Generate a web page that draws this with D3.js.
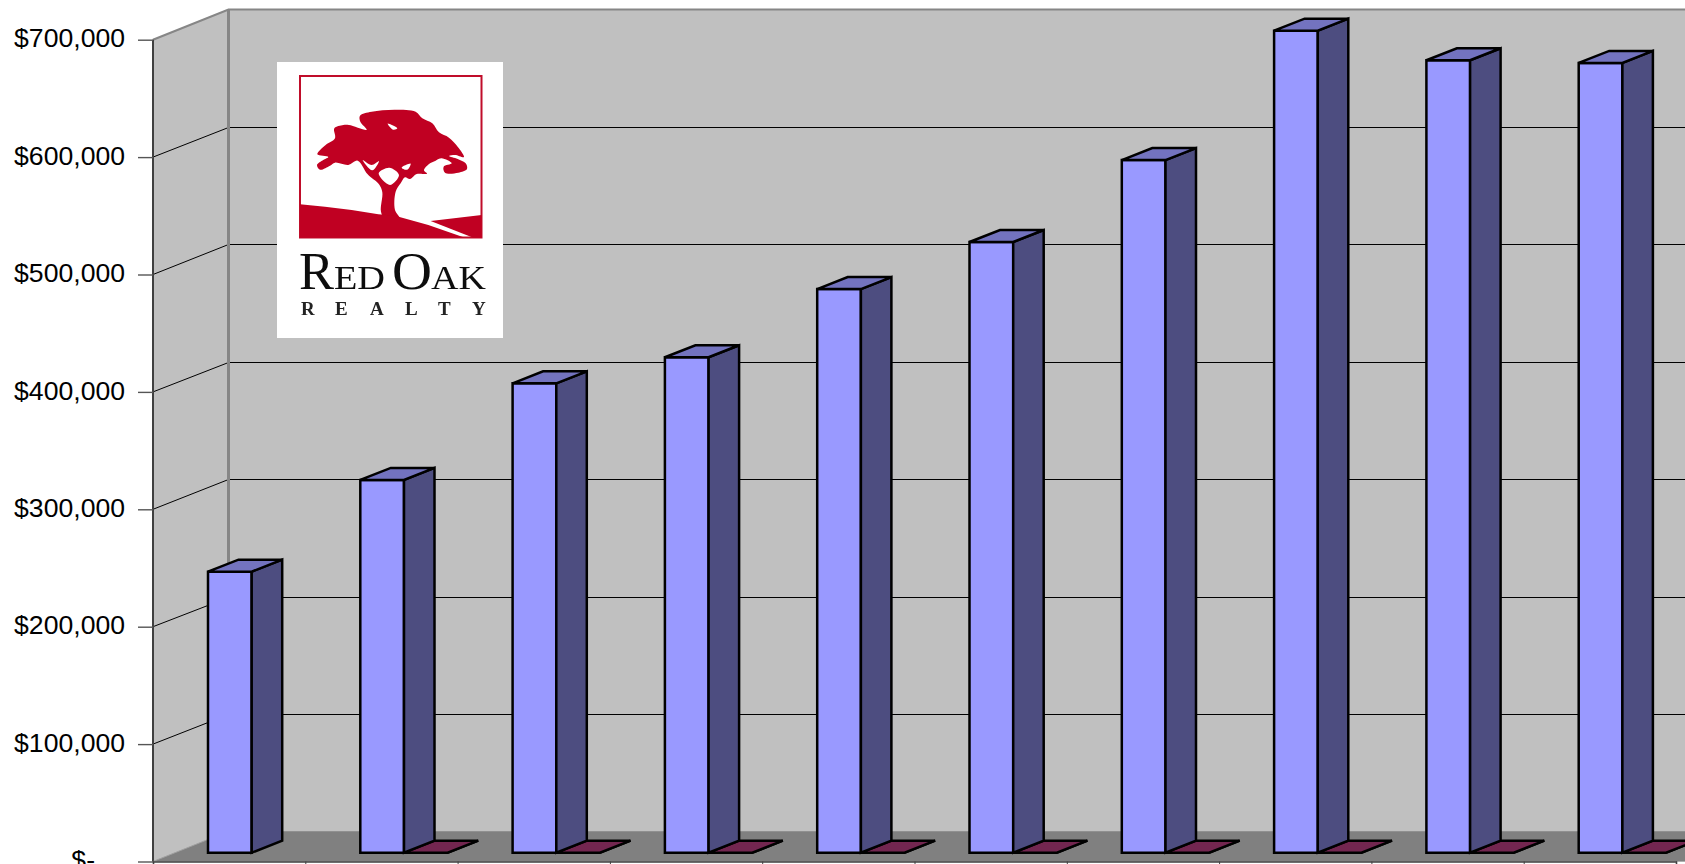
<!DOCTYPE html>
<html>
<head>
<meta charset="utf-8">
<script src="https://cdn.jsdelivr.net/npm/d3@7/dist/d3.min.js"></script>
<style>
html,body{margin:0;padding:0;background:#fff;overflow:hidden}
svg{display:block}
</style>
</head>
<body>
<svg id="chart" width="1685" height="864"></svg>
<script>
// ---- data ----
const categories = ["1","2","3","4","5","6","7","8","9","10"];
const seriesA = [239400,317500,399800,422000,480100,520200,590000,700200,675000,672700];
const seriesB = [null,0,0,0,0,0,0,0,0,0];
const yTicks = [0,100000,200000,300000,400000,500000,600000,700000];

// ---- layout ----
const W = 1685, H = 864;
const axisX = 153, backX = 228.5, baseY = 861.5, topY = 39.7, depthWall = 30.2;
const catW = 152.3;
const barDepthX = 30.5, barDepthY = 12, frontShiftY = 8.8;

const svg = d3.select("#chart");
const y = d3.scaleLinear().domain([0,700000]).range([baseY, topY]);
const x = d3.scaleBand().domain(categories).range([axisX, axisX + catW*categories.length]).paddingInner(0).paddingOuter(0);
const xEdge = d3.scaleLinear().domain([0,categories.length]).range([axisX, axisX + catW*categories.length]);
const s = d3.scaleBand().domain(["a","b"]).range([55, 55+87.4]);

// walls and floor
const poly = pts => "M" + pts.map(p=>p.join(",")).join("L") + "Z";
svg.append("path").attr("d",poly([[axisX,topY],[backX,topY-depthWall],[W,topY-depthWall],[W,baseY],[axisX,baseY]])).attr("fill","#c0c0c0");
svg.append("path").attr("d",poly([[axisX,baseY],[backX,baseY-depthWall],[W,baseY-depthWall],[W,baseY]])).attr("fill","#808080");

// gridlines
const gridTicks = yTicks.filter(t=>t>0 && t<700000);
const snap = v => Math.round(v) + 0.5;
svg.append("g").selectAll("path").data(gridTicks).join("path")
  .attr("d",t=>`M${axisX},${y(t)}L${backX},${snap(y(t)-depthWall)}L${W},${snap(y(t)-depthWall)}`)
  .attr("fill","none").attr("stroke","#000").attr("stroke-width",1);

// wall edges
svg.append("path").attr("d",`M${axisX},${topY}L${backX},${topY-depthWall}L${W},${topY-depthWall}`)
  .attr("fill","none").attr("stroke","#868686").attr("stroke-width",2.2);
svg.append("path").attr("d",`M${backX},${topY-depthWall}V${baseY-depthWall}`)
  .attr("stroke","#868686").attr("stroke-width",3);
svg.append("path").attr("d",`M${axisX},${topY}V${baseY}`)
  .attr("stroke","#404040").attr("stroke-width",2);
svg.append("path").attr("d",`M${axisX},${baseY}L${backX},${baseY-depthWall}`)
  .attr("stroke","#a0a0a0").attr("stroke-width",1);

// axes
const yAxis = svg.append("g").attr("transform",`translate(${axisX},0)`)
  .call(d3.axisLeft(y).tickValues(yTicks).tickSize(15).tickPadding(13)
    .tickFormat(v=> v===0 ? "$-" : d3.format("$,")(v)));
yAxis.select(".domain").remove();
yAxis.selectAll("line").attr("stroke","#555").attr("stroke-width",1.4);
yAxis.selectAll("text").attr("fill","#000")
  .style("font-family","'Liberation Sans',Arial,sans-serif").style("font-size","26.6px")
  .attr("dx",d=>d===0?-30:0).attr("dy","0.27em");

const xAxis = svg.append("g").attr("transform",`translate(0,${baseY})`)
  .call(d3.axisBottom(xEdge).tickValues(d3.range(categories.length+1)).tickSize(4).tickFormat(""));
xAxis.select(".domain").attr("stroke","#404040").attr("stroke-width",1.6);
xAxis.selectAll("line").attr("stroke","#404040").attr("stroke-width",1);

// 3-D bars
function bar3d(sel, cat, key, v, cols){
  const x0 = x(cat) + s(key), x1 = x0 + s.bandwidth();
  const yb = y(0) - frontShiftY, yt = y(v) - frontShiftY;
  const g = sel.append("g");
  const faces = [];
  if (v > 0) faces.push({d:poly([[x0,yt],[x1,yt],[x1,yb],[x0,yb]]),f:cols[0]});
  faces.push({d:poly([[x1,yt],[x1+barDepthX,yt-barDepthY],[x1+barDepthX,yb-barDepthY],[x1,yb]]),f:cols[1]});
  faces.push({d:poly([[x0,yt],[x0+barDepthX,yt-barDepthY],[x1+barDepthX,yt-barDepthY],[x1,yt]]),f:cols[2]});
  g.selectAll("path").data(faces).join("path").attr("d",d=>d.d).attr("fill",d=>d.f)
    .attr("stroke","#000").attr("stroke-width",2.5).attr("stroke-linejoin","miter");
}
const barsG = svg.append("g");
categories.forEach((c,i)=>{
  if (seriesB[i] !== null) bar3d(barsG,c,"b",seriesB[i],["#993366","#4d1a33","#732650"]);
  bar3d(barsG,c,"a",seriesA[i],["#9999ff","#4d4d80","#7373bf"]);
});

// ---- logo (decoration, not data) ----
const canopy = [[97,178],[122,150],[150,130],[148,100],[175,90],[192,90],[245,104],[226,80],[225,62],[260,50],[330,44],[392,50],[412,70],[442,85],[462,112],[492,128],[518,155],[537,186],[510,180],[492,183],[518,192],[542,205],[546,222],[520,233],[480,233],[476,215],[500,205],[470,190],[452,197],[432,207],[417,226],[426,236],[395,237],[375,252],[360,247],[347,265],[332,290],[330,345],[345,372],[300,372],[288,350],[292,292],[282,268],[248,238],[218,197],[190,210],[150,203],[135,212],[105,224],[96,210],[115,195],[130,186]];
const holes = [
  [[281,235],[313,218],[342,240],[315,270]],
  [[233,195],[260,210],[282,198],[262,226]],
  [[350,218],[377,206],[367,224]],
  [[308,86],[337,100],[325,104]]
];
const hillL = [[45,328],[120,335],[200,345],[280,358],[330,362],[430,390],[540,428],[45,428]];
const hillR = [[437,378],[590,360],[590,428],[565,428]];
const logo = svg.append("g");
const defs = svg.append("defs");
defs.append("filter").attr("id","soft").append("feGaussianBlur").attr("stdDeviation",0.45);
logo.append("rect").attr("x",277).attr("y",62).attr("width",226).attr("height",276).attr("fill","#fff");
logo.append("rect").attr("x",300).attr("y",76).attr("width",181.5).attr("height",161.5)
  .attr("fill","none").attr("stroke","#c00d2a").attr("stroke-width",2);
const tree = logo.append("g").attr("transform","translate(285,95) scale(0.3333)").attr("filter","url(#soft)");
const smooth = d3.line().curve(d3.curveCatmullRomClosed.alpha(0.5));
tree.append("path").attr("d",smooth(canopy)).attr("fill","#c00020");
tree.selectAll("path.h").data(holes).join("path").attr("class","h").attr("d",d=>smooth(d)).attr("fill","#fff");
tree.append("path").attr("d",poly(hillL)).attr("fill","#c00020");
tree.append("path").attr("d",poly(hillR)).attr("fill","#c00020");

const soft = logo.append("g").attr("filter","url(#soft)");
[["R",52,299,35],["ED",33,334,51],["O",52,392,40],["AK",33,431,55]].forEach(([txt,sz,px,len])=>
  soft.append("text").attr("x",px).attr("y",288.5).attr("fill","#111")
    .attr("textLength",len).attr("lengthAdjust","spacingAndGlyphs")
    .style("font-family","'Liberation Serif',serif").style("font-size",sz+"px").text(txt));
soft.append("text").attr("y",315).attr("fill","#222").attr("font-weight","bold")
  .attr("x",[301,335,370,405,438,472].join(" "))
  .style("font-family","'Liberation Serif',serif").style("font-size","19px")
  .text("REALTY");
</script>
</body>
</html>
